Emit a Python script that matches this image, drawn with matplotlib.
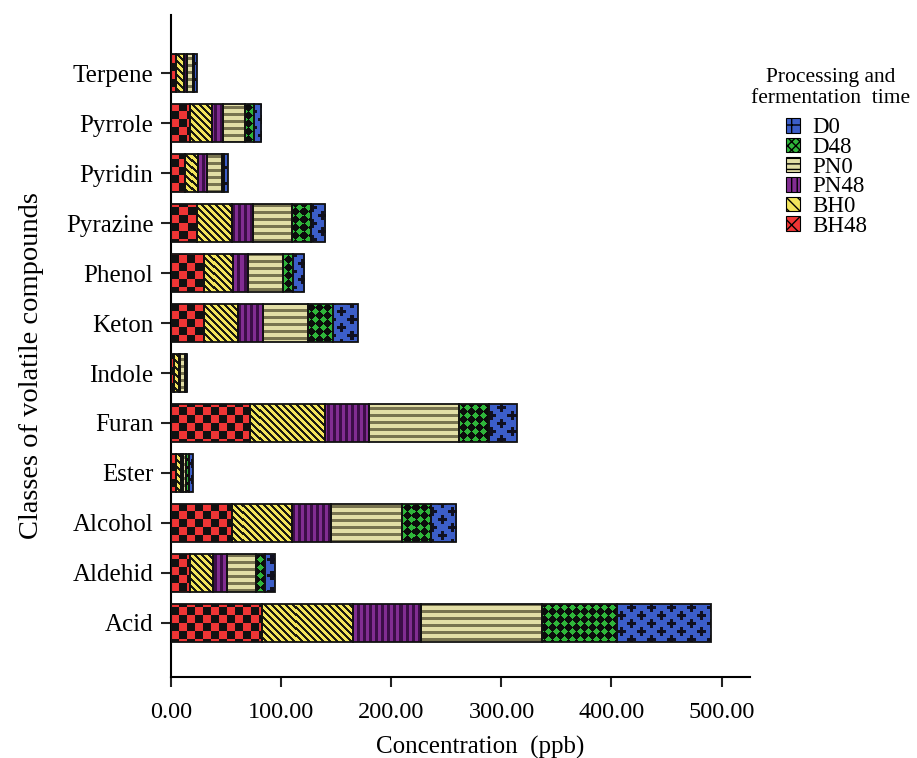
import numpy as np
import matplotlib.pyplot as plt
from matplotlib.patches import Patch

plt.rcParams['font.family'] = ['Liberation Serif', 'DejaVu Serif']

# Concentration (ppb) of each class of volatile compounds per treatment
categories = ['Acid', 'Aldehid', 'Alcohol', 'Ester', 'Furan', 'Indole',
              'Keton', 'Phenol', 'Pyrazine', 'Pyridin', 'Pyrrole', 'Terpene']
bh48 = [82.5, 16.8, 55.0, 4.0, 71.4, 2.0, 29.5, 29.8, 22.9, 12.6, 16.8, 4.0]
bh0 = [82.8, 20.6, 54.3, 4.6, 68.4, 4.5, 30.7, 26.4, 31.8, 11.2, 20.0, 7.0]
pn48 = [61.2, 13.3, 35.4, 1.9, 39.7, 1.5, 22.7, 13.1, 19.7, 8.8, 9.7, 3.0]
pn0 = [110.0, 25.8, 64.8, 2.7, 82.1, 4.3, 41.5, 31.8, 35.4, 13.3, 20.3, 5.5]
d48 = [68.5, 8.5, 26.1, 2.8, 27.0, 0.8, 22.7, 9.1, 16.7, 1.8, 8.2, 1.2]
d0 = [85.2, 9.0, 23.0, 3.2, 25.2, 1.0, 22.2, 10.5, 13.3, 3.4, 6.6, 2.5]

series_names = ['BH48', 'BH0', 'PN48', 'PN0', 'D48', 'D0']
series_values = [bh48, bh0, pn48, pn0, d48, d0]
x_ticks = [0, 100, 200, 300, 400, 500]


def rgb(hexstr):
    hexstr = hexstr.lstrip('#')
    return np.array([int(hexstr[i:i + 2], 16) / 255 for i in (0, 2, 4)])


def two_tone(mask, on, off):
    img = np.empty(mask.shape + (3,))
    img[mask] = rgb(on)
    img[~mask] = rgb(off)
    return img


# pixel-space fill patterns, one per treatment
def pat_checker(X, Y):
    return two_tone(((X // 8 + Y // 8) % 2) == 0, '#111111', '#ef3535')


def pat_diag(X, Y):
    return two_tone(((X - Y) % 7) < 2.6, '#1a1a10', '#f2e45c')


def pat_vert(X, Y):
    return two_tone((X % 6) < 2.2, '#3c0e47', '#822d92')


def pat_horiz(X, Y):
    return two_tone((Y % 7) < 3, '#77734f', '#e2dea6')


def pat_dots(X, Y):
    v = np.cos(2 * np.pi * X / 8) + np.cos(2 * np.pi * Y / 8)
    return two_tone(v > 0.2, '#2fb53a', '#0c0c0c')


def pat_plus(X, Y):
    mask = np.zeros(X.shape, dtype=bool)
    px, py, arm, th = 20, 16, 4, 1.5
    for ox, oy in [(0, 0), (px / 2, py / 2)]:
        dx = np.abs(((X - ox + px / 2) % px) - px / 2)
        dy = np.abs(((Y - oy + py / 2) % py) - py / 2)
        mask |= ((dx <= arm) & (dy <= th)) | ((dy <= arm) & (dx <= th))
    return two_tone(mask, '#101020', '#3c5ec8')


patterns = [pat_checker, pat_diag, pat_vert, pat_horiz, pat_dots, pat_plus]
legend_style = [('#ef3535', 'xx'), ('#f2e45c', '\\\\\\'), ('#822d92', '|||'),
                ('#e2dea6', '---'), ('#2fb53a', 'xxxx'), ('#3c5ec8', '+')]

fig = plt.figure(figsize=(9.17, 7.58), dpi=100)
ax = fig.add_axes([0.187, 0.107, 0.631, 0.873])
xlim = (0, 526)
ylim = (-1.08, 12.16)
ax.set_xlim(*xlim)
ax.set_ylim(*ylim)

bbox = ax.get_window_extent()
W, H = int(round(bbox.width)), int(round(bbox.height))
Y, X = np.mgrid[0:H, 0:W]

ypos = np.arange(len(categories))
left = np.zeros(len(categories))
for name, vals, pat in zip(series_names, series_values, patterns):
    bars = ax.barh(ypos, vals, left=left, height=0.76, facecolor='none',
                   edgecolor='#111111', linewidth=1.3, zorder=3, label=name)
    tex = pat(X, Y)
    for b in bars:
        im = ax.imshow(tex, extent=(xlim[0], xlim[1], ylim[0], ylim[1]),
                       origin='upper', aspect='auto', interpolation='nearest',
                       zorder=2)
        im.set_clip_path(b)
    left += np.array(vals)

ax.set_xlim(*xlim)
ax.set_ylim(*ylim)
ax.set_aspect('auto')

ax.spines['top'].set_visible(False)
ax.spines['right'].set_visible(False)
ax.spines['left'].set_linewidth(1.5)
ax.spines['bottom'].set_linewidth(1.5)
ax.set_yticks(ypos)
ax.set_yticklabels(categories, fontsize=18)
ax.set_xticks(x_ticks)
ax.set_xticklabels([f'{t:.2f}' for t in x_ticks], fontsize=17.5)
ax.tick_params(axis='both', length=7, width=1.5, color='#222222')
ax.tick_params(axis='x', pad=11)
ax.tick_params(axis='y', pad=6)
ax.set_xlabel('Concentration  (ppb)', fontsize=18)
ax.xaxis.set_label_coords(0.533, -0.089)
ax.set_ylabel('Classes of volatile compounds', fontsize=20.5)
ax.yaxis.set_label_coords(-0.221, 0.471)

# legend, top-down from D0 to BH48
handles = [Patch(facecolor=c, hatch=h, edgecolor='black', linewidth=0.8)
           for c, h in legend_style][::-1]
fig.text(0.906, 0.910, 'Processing and\nfermentation  time', fontsize=15.5,
         ha='center', va='top', linespacing=1.1)
fig.legend(handles, series_names[::-1], loc='upper left',
           bbox_to_anchor=(0.857, 0.845), frameon=False, fontsize=16.5,
           handlelength=0.6, handleheight=0.6, handletextpad=0.55,
           labelspacing=-0.06, borderaxespad=0, borderpad=0)

fig.savefig('out.png', dpi=100)
